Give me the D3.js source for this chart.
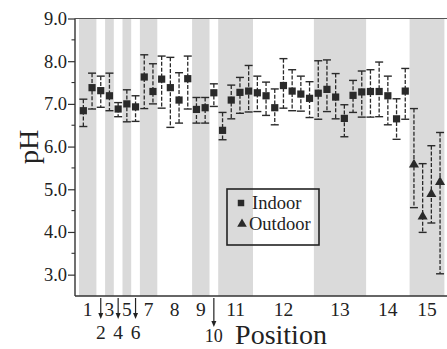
<!DOCTYPE html>
<html><head><meta charset="utf-8">
<script src="https://cdn.jsdelivr.net/npm/d3@7"></script>
<style>html,body{margin:0;padding:0;background:#fff}svg{display:block}</style>
</head><body><svg id="c" width="447" height="349"></svg>
<script>
// ---- data ----
const positions = [1,2,3,4,5,6,7,8,9,10,11,12,13,14,15];
const samplesPerPosition = [2,1,1,1,1,1,2,4,2,1,4,7,6,5,4];
const arrowLabelPositions = [2,4,6,10];
const yTicks = [3,4,5,6,7,8,9];
const seriesNames = ["Indoor","Outdoor"];
const indoorMean = [6.84,7.38,7.31,7.19,6.88,7.00,6.93,7.63,7.29,7.58,7.38,7.09,7.59,6.87,6.91,7.26,6.38,7.09,7.27,7.30,7.26,7.19,6.91,7.43,7.30,7.23,7.13,7.25,7.34,7.16,6.66,7.20,7.28,7.29,7.29,7.19,6.65,7.30];
const indoorHigh = [7.11,7.72,7.65,7.72,7.03,7.33,7.19,8.15,7.94,8.12,8.09,7.73,8.12,7.15,7.15,7.47,6.80,7.44,7.62,7.90,7.65,7.51,7.35,8.06,7.80,7.65,7.52,8.01,8.03,7.71,6.98,7.55,7.77,7.80,7.98,7.65,7.12,7.83];
const indoorLow  = [6.47,6.88,6.92,6.84,6.70,6.58,6.59,6.89,7.00,6.90,6.45,6.55,6.88,6.55,6.55,6.94,6.16,6.65,6.78,6.81,6.82,6.73,6.51,6.90,6.84,6.83,6.68,6.64,6.82,6.65,6.23,6.80,6.69,6.69,6.70,6.51,6.17,6.64];
const outdoorMean = [5.58,4.36,4.89,5.17];
const outdoorHigh = [6.89,5.60,6.02,6.33];
const outdoorLow  = [4.57,3.99,4.21,3.02];

// ---- layout ----
const svg = d3.select("#c");
const FONT = "'Liberation Serif','Times New Roman',serif";
const plotL = 75, plotR = 447, plotT = 18.5, plotB = 296;
const nSlots = d3.sum(samplesPerPosition);
const x = d3.scaleBand().domain(d3.range(nSlots)).range([79, 444.4]).padding(0);
const y = d3.scaleLinear().domain([2.5, 9.0]).range([plotB, plotT]);

const starts = [];
let acc = 0;
samplesPerPosition.forEach(n => { starts.push(acc); acc += n; });

// bands
const gBands = svg.append("g");
positions.forEach((p, i) => {
  if (p % 2 === 1) {
    gBands.append("rect")
      .attr("x", x(starts[i])).attr("y", plotT)
      .attr("width", samplesPerPosition[i] * x.bandwidth())
      .attr("height", plotB - plotT)
      .attr("fill", "#dadada");
  }
});

// points
const indoor = indoorMean.map((m, i) => ({slot: i, m, hi: indoorHigh[i], lo: indoorLow[i], s: 0}));
const outdoor = outdoorMean.map((m, i) => ({slot: indoorMean.length + i, m, hi: outdoorHigh[i], lo: outdoorLow[i], s: 1}));
const all = indoor.concat(outdoor);
const cx = d => x(d.slot) + x.bandwidth() / 2;
const ink = "#2a2a2a";

const gErr = svg.append("g");
gErr.selectAll("line.v").data(all).join("line")
  .attr("x1", cx).attr("x2", cx)
  .attr("y1", d => y(d.hi)).attr("y2", d => y(d.lo))
  .attr("stroke", ink).attr("stroke-width", 1.3).attr("stroke-dasharray", "4,1.8");
["hi","lo"].forEach(k => {
  gErr.selectAll("line.c" + k).data(all).join("line")
    .attr("x1", d => cx(d) - 4).attr("x2", d => cx(d) + 4)
    .attr("y1", d => y(d[k])).attr("y2", d => y(d[k]))
    .attr("stroke", ink).attr("stroke-width", 1.4);
});
const sq = d3.symbol().type(d3.symbolSquare).size(52);
const tri = d3.symbol().type(d3.symbolTriangle).size(44);
svg.append("g").selectAll("path").data(all).join("path")
  .attr("transform", d => `translate(${cx(d)},${y(d.m)})`)
  .attr("d", d => d.s === 0 ? sq() : tri())
  .attr("fill", ink);

// axes
const yAxis = d3.axisLeft(y).tickValues(yTicks).tickFormat(d3.format(".1f")).tickSize(7).tickPadding(1);
const gy = svg.append("g").attr("transform", `translate(${plotL},0)`).call(yAxis);
gy.select(".domain").remove();
gy.selectAll("text").attr("font-family", FONT).attr("font-size", 18.5).attr("fill", "#222");
gy.selectAll("line").attr("stroke", "#333").attr("stroke-width", 1.2);
const minor = d3.range(3.5, 9, 1);
svg.append("g").selectAll("line").data(minor).join("line")
  .attr("x1", plotL - 3.5).attr("x2", plotL)
  .attr("y1", d => y(d)).attr("y2", d => y(d))
  .attr("stroke", "#333").attr("stroke-width", 1.1);

// frame lines
svg.append("line").attr("x1", plotL).attr("x2", plotL).attr("y1", plotT).attr("y2", plotB).attr("stroke", "#333").attr("stroke-width", 1.4);
svg.append("line").attr("x1", plotL).attr("x2", plotR).attr("y1", plotB).attr("y2", plotB).attr("stroke", "#333").attr("stroke-width", 1.4);
svg.append("line").attr("x1", plotL).attr("x2", plotR).attr("y1", plotT).attr("y2", plotT).attr("stroke", "#555").attr("stroke-width", 1);

// x labels
const posCenter = i => x(starts[i]) + samplesPerPosition[i] * x.bandwidth() / 2;
const gx = svg.append("g").attr("font-family", FONT).attr("fill", "#222").attr("text-anchor", "middle");
positions.forEach((p, i) => {
  const c = posCenter(i);
  if (arrowLabelPositions.includes(p)) {
    const tip = p === 10 ? 327 : 319;
    gx.append("line").attr("x1", c).attr("x2", c).attr("y1", plotB + 2).attr("y2", tip - 4)
      .attr("stroke", "#222").attr("stroke-width", 1.2);
    gx.append("path").attr("d", `M${c-2.5},${tip-6}L${c+2.5},${tip-6}L${c},${tip}Z`).attr("fill", "#222");
    gx.append("text").attr("x", c).attr("y", p === 10 ? 342 : 339)
      .attr("font-size", p === 10 ? 18 : 19.5).text(p);
  } else {
    gx.append("text").attr("x", c).attr("y", 316).attr("font-size", 19.5).text(p);
  }
});
svg.append("text").attr("x", 281).attr("y", 344).attr("text-anchor", "middle")
  .attr("font-family", FONT).attr("font-size", 28).attr("fill", "#222").text("Position");
svg.append("text").attr("transform", "translate(38,147) rotate(-90)").attr("text-anchor", "middle")
  .attr("font-family", FONT).attr("font-size", 28).attr("fill", "#222").text("pH");

// legend
const lg = svg.append("g");
lg.append("rect").attr("x", 227).attr("y", 189).attr("width", 92).attr("height", 56)
  .attr("fill", "none").attr("stroke", "#222").attr("stroke-width", 1.6);
lg.append("path").attr("transform", "translate(241,203)").attr("d", d3.symbol().type(d3.symbolSquare).size(42)()).attr("fill", ink);
lg.append("path").attr("transform", "translate(242,224)").attr("d", d3.symbol().type(d3.symbolTriangle).size(40)()).attr("fill", ink);
lg.append("text").attr("x", 252).attr("y", 209).attr("font-family", FONT).attr("font-size", 18.5).attr("fill", "#222").text(seriesNames[0]);
lg.append("text").attr("x", 249).attr("y", 230).attr("font-family", FONT).attr("font-size", 18.5).attr("fill", "#222").text(seriesNames[1]);
</script>
</body></html>
